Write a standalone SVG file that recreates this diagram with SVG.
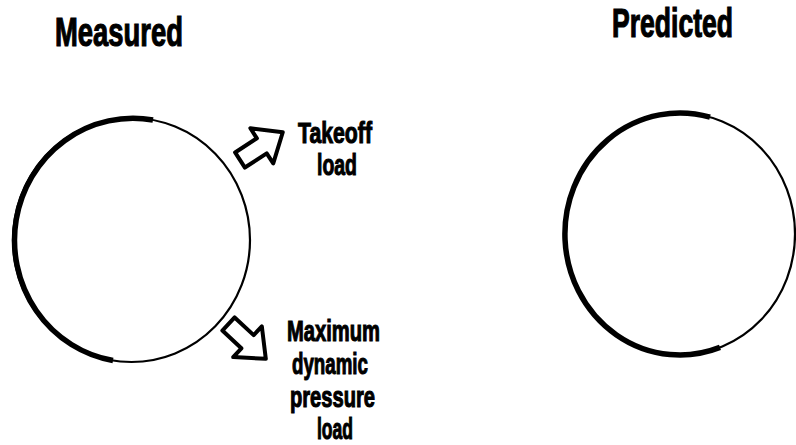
<svg xmlns="http://www.w3.org/2000/svg" width="796" height="445" viewBox="0 0 796 445">
  <style>
    .title { font-family: "Liberation Sans", Arial, sans-serif; font-weight: bold; font-size: 40px; fill: #000; stroke: #000; stroke-width: 1.2; }
    .lbl { font-family: "Liberation Sans", Arial, sans-serif; font-weight: bold; font-size: 29px; fill: #000; stroke: #000; stroke-width: 1.1; }
    .thin { fill: none; stroke: #000; stroke-width: 2.2; }
    .thick { fill: none; stroke: #000; stroke-width: 5.5; stroke-linecap: butt; }
    .blk { fill: #fff; stroke: #000; stroke-width: 4; stroke-linejoin: round; }
  </style>
  <defs>
    <polygon id="blockArrow" points="0,-9 26,-9 26,-21 51,0 26,21 26,9 0,9"/>
  </defs>
  <rect width="796" height="445" fill="#fff"/>

  <g id="measured">
    <text class="title" x="55" y="46" textLength="128" lengthAdjust="spacingAndGlyphs">Measured</text>
    <ellipse class="thin" cx="131.5" cy="240" rx="118.5" ry="122"/>
    <path class="thick" d="M 153 120 A 118.5 122 0 1 0 113 360.5"/>
  </g>

  <g id="predicted">
    <text class="title" x="612" y="37" textLength="121" lengthAdjust="spacingAndGlyphs">Predicted</text>
    <ellipse class="thin" cx="680" cy="234" rx="115" ry="121"/>
    <path class="thick" d="M 710 117.2 A 115 121 0 1 0 720 347.4"/>
  </g>

  <g id="takeoff-label">
    <text class="lbl" x="298" y="143" textLength="74" lengthAdjust="spacingAndGlyphs">Takeoff</text>
    <text class="lbl" x="317" y="175" textLength="40" lengthAdjust="spacingAndGlyphs">load</text>
  </g>

  <g id="maxq-label">
    <text class="lbl" x="287" y="341" textLength="93" lengthAdjust="spacingAndGlyphs">Maximum</text>
    <text class="lbl" x="292" y="374" textLength="76" lengthAdjust="spacingAndGlyphs">dynamic</text>
    <text class="lbl" x="290" y="407" textLength="85" lengthAdjust="spacingAndGlyphs">pressure</text>
    <text class="lbl" x="317" y="439" textLength="36" lengthAdjust="spacingAndGlyphs">load</text>
  </g>

  <g id="connectors">
    <use href="#blockArrow" class="blk" transform="translate(240 160) rotate(-33)"/>
    <use href="#blockArrow" class="blk" transform="translate(228.5 324) rotate(43)"/>
  </g>
</svg>
